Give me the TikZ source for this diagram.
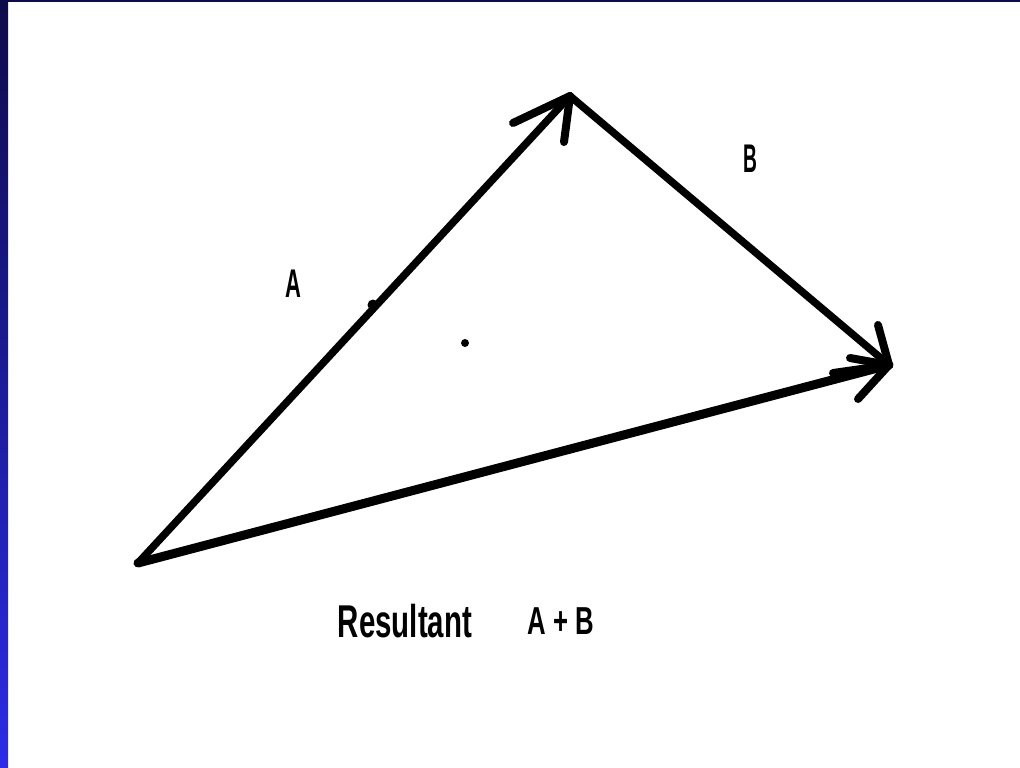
\documentclass[tikz,border=0pt]{standalone}
\usepackage{fontspec}
\setmainfont{Liberation Sans}
\definecolor{navy}{RGB}{14,11,74}
\definecolor{barblue}{RGB}{44,44,232}
\tikzset{
  vec/.style={line width=7.5pt, line cap=round, line join=round, black},
  res/.style={line width=9pt, line cap=round, line join=round, black},
  barb/.style={line width=8pt, line cap=round, black},
  lbl/.style={inner sep=0pt, font=\bfseries\fontsize{40}{40}\selectfont},
}
\begin{document}
\begin{tikzpicture}[x=1pt,y=-1pt]
\useasboundingbox (0,0) rectangle (1020,768);
\fill[white] (0,0) rectangle (1020,768);
\shade[top color=navy, bottom color=barblue] (0,0) rectangle (8,768);
\fill[navy] (0,0) rectangle (1020,2);
% points
\coordinate (O) at (138,563);
\coordinate (P) at (570,96);
\coordinate (Q) at (889,365);
\coordinate (pa1) at (513,123);
\coordinate (pa2) at (564,142);
\coordinate (qb1) at (878,325);
\coordinate (qb2) at (850,358);
\coordinate (qr1) at (833,373);
\coordinate (qr2) at (858,399);
% vectors
\draw[vec] (O) -- (P);
\draw[vec] (P) -- (Q);
\draw[res] (O) -- (Q);
% arrow barbs
\draw[barb] (P) -- (pa1);
\draw[barb] (P) -- (pa2);
\draw[barb] (Q) -- (qb1);
\draw[barb] (Q) -- (qb2);
\draw[barb] (Q) -- (qr1);
\draw[barb] (Q) -- (qr2);
% small marks
\fill (465,343) circle (4);
\fill (373,305) circle (5.5);
% labels
\node[lbl] (la) at (293,284) {\scalebox{0.55}[1]{A}};
\node[lbl] (lb) at (750,159) {\scalebox{0.48}[1]{B}};
\node[inner sep=0pt, font=\bfseries\fontsize{46}{46}\selectfont] (lr) at (405,621) {\scalebox{0.64}[1]{Resultant}};
\node[inner sep=0pt, font=\bfseries\fontsize{39}{39}\selectfont] (lab) at (561,621) {\scalebox{0.66}[1]{A + B}};
\end{tikzpicture}
\end{document}
